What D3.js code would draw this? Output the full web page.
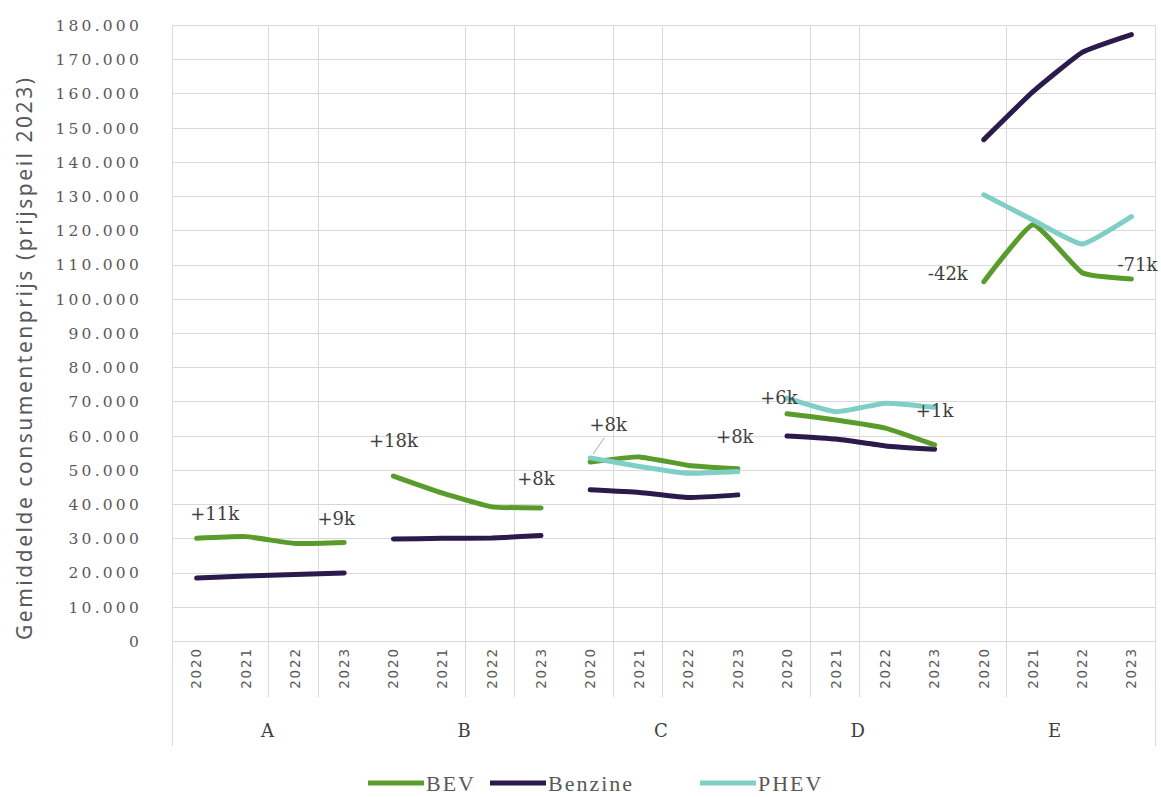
<!DOCTYPE html>
<html><head><meta charset="utf-8">
<script src="https://cdn.jsdelivr.net/npm/d3@7"></script>
<style>
html,body{margin:0;padding:0;background:#fff;}
svg{display:block;}
</style></head>
<body>
<svg id="chart" width="1161" height="797"></svg>
<script>
// ---- data ----
const groups = ["A", "B", "C", "D", "E"];
const years = ["2020", "2021", "2022", "2023"];
const seriesNames = ["BEV", "Benzine", "PHEV"];
// values per group, per year (euro, prijspeil 2023)
const bev = [
  [30000, 30500, 28500, 28800],
  [48200, 43200, 39200, 38900],
  [52300, 53800, 51300, 50300],
  [66400, 64600, 62200, 57300],
  [105000, 121600, 107600, 105800]
];
const benzine = [
  [18400, 19000, 19400, 19900],
  [29800, 30000, 30100, 30800],
  [44200, 43400, 41900, 42700],
  [59900, 59000, 57000, 56000],
  [146500, 160500, 172000, 177200]
];
const phev = [
  null,
  null,
  [53500, 51000, 49000, 49500],
  [71000, 67000, 69500, 68300],
  [130400, 123000, 116000, 124000]
];
const yTicks = [0,10000,20000,30000,40000,50000,60000,70000,80000,90000,100000,110000,120000,130000,140000,150000,160000,170000,180000];
// annotation labels: text, group index, year index, series
const annoText  = ["+11k","+9k","+18k","+8k","+8k","+8k","+6k","+1k","-42k","-71k"];
const annoGroup = [0,0,1,1,2,2,3,3,4,4];
const annoYear  = [0,3,0,3,0,3,0,3,0,3];
const annoSeries= ["BEV","BEV","BEV","BEV","PHEV","BEV","PHEV","PHEV","BEV","BEV"];

(function(){
// ---- layout ----
const svg = d3.select("#chart");
const mLeft = 172, mRight = 1156, mTop = 25, mBottom = 641;
const cats = [];
groups.forEach(g => years.forEach(yr => cats.push(g + "|" + yr)));
const x = d3.scaleBand().domain(cats).range([mLeft, mRight]).paddingInner(0).paddingOuter(0);
const y = d3.scaleLinear().domain([0, 180000]).range([mBottom, mTop]);
const colors = { BEV: "#5a9c2c", Benzine: "#2b1a4c", PHEV: "#80cfc6" };
const dataBySeries = { BEV: bev, Benzine: benzine, PHEV: phev };
const gridColor = "#d9d9d9";

// horizontal gridlines
svg.append("g").selectAll("line").data(yTicks).join("line")
  .attr("x1", mLeft).attr("x2", mRight)
  .attr("y1", d => Math.round(y(d)) + 0.5).attr("y2", d => Math.round(y(d)) + 0.5)
  .attr("stroke", gridColor).attr("stroke-width", 1);

// vertical gridlines (as seen in the reference)
const vBound = [2, 3, 6, 7, 9, 10, 13, 14, 17];
svg.append("g").selectAll("line").data(vBound).join("line")
  .attr("x1", d => Math.round(mLeft + d * x.bandwidth()) - 1.5)
  .attr("x2", d => Math.round(mLeft + d * x.bandwidth()) - 1.5)
  .attr("y1", mTop).attr("y2", 697)
  .attr("stroke", gridColor).attr("stroke-width", 1);
// outer frame lines
[mLeft + 0.5, mRight - 0.5].forEach(xx => {
  svg.append("line").attr("x1", xx).attr("x2", xx).attr("y1", mTop).attr("y2", 746)
    .attr("stroke", gridColor).attr("stroke-width", 1);
});

// y axis tick labels
const yAxis = d3.axisLeft(y).tickValues(yTicks).tickSize(0)
  .tickFormat(d => d === 0 ? "0" : d3.format(",")(d).replace(/,/g, "."));
const ya = svg.append("g").attr("transform", `translate(${mLeft - 27},0)`).call(yAxis);
ya.select(".domain").remove();
ya.selectAll("text").attr("font-family", "DejaVu Serif").attr("font-size", 15.5)
  .attr("letter-spacing", 3.2).attr("fill", "#595959").attr("dy", "0.35em");

// y axis title
svg.append("text")
  .attr("transform", `translate(32,${(78 + 640) / 2}) rotate(-90)`)
  .attr("text-anchor", "middle")
  .attr("font-family", "Noto Sans").attr("font-size", 21).attr("fill", "#595959")
  .attr("textLength", 562).attr("lengthAdjust", "spacing")
  .text("Gemiddelde consumentenprijs (prijspeil 2023)");

// x axis: year labels
const xAxis = d3.axisBottom(x).tickSize(0).tickFormat(d => d.split("|")[1]);
const xa = svg.append("g").attr("transform", `translate(0,${mBottom})`).call(xAxis);
xa.select(".domain").attr("stroke", gridColor);
xa.selectAll("text")
  .attr("transform", "rotate(-90)")
  .attr("text-anchor", "middle")
  .attr("x", -27).attr("y", 0).attr("dy", "0.35em")
  .attr("font-family", "DejaVu Sans").attr("font-size", 13.5)
  .attr("letter-spacing", 1.8).attr("fill", "#595959");

// group labels
svg.append("g").selectAll("text").data(groups).join("text")
  .attr("x", (g) => x(g + "|2020") + x.bandwidth() * 2 - 3)
  .attr("y", 737)
  .attr("text-anchor", "middle")
  .attr("font-family", "DejaVu Serif").attr("font-size", 18).attr("fill", "#404040")
  .text(d => d);

// lines
const line = d3.line()
  .x(d => d.x)
  .y(d => y(d.v))
  .curve(d3.curveCardinal.tension(0.6));
const linesG = svg.append("g");
["Benzine", "BEV", "PHEV"].forEach(s => {
  dataBySeries[s].forEach((vals, gi) => {
    if (!vals) return;
    const pts = vals.map((v, yi) => ({ x: x(groups[gi] + "|" + years[yi]) + x.bandwidth() / 2, v }));
    linesG.append("path").datum(pts)
      .attr("d", line)
      .attr("fill", "none")
      .attr("stroke", colors[s])
      .attr("stroke-width", 5)
      .attr("stroke-linecap", "round")
      .attr("stroke-linejoin", "round");
  });
});

// annotations
const annoOffsets = [
  [18, -25], [-8, -24], [0, -35], [-5, -29], [18, -33], [-3, -32], [-8, 0], [0, 3], [-36, -8], [6, -14]
];
const ag = svg.append("g");
annoText.forEach((t, i) => {
  const gi = annoGroup[i], yi = annoYear[i];
  const px = x(groups[gi] + "|" + years[yi]) + x.bandwidth() / 2;
  const py = y(dataBySeries[annoSeries[i]][gi][yi]);
  ag.append("text")
    .attr("x", px + annoOffsets[i][0]).attr("y", py + annoOffsets[i][1])
    .attr("text-anchor", "middle").attr("dy", "0.35em")
    .attr("font-family", "DejaVu Serif").attr("font-size", 18).attr("fill", "#404040")
    .text(t);
});
// small leader line
{
  const px = x("C|2020") + x.bandwidth() / 2, py = y(phev[2][0]);
  ag.append("line").attr("x1", px + 14).attr("y1", py - 20).attr("x2", px + 3).attr("y2", py - 4)
    .attr("stroke", "#a6a6a6").attr("stroke-width", 1);
}

// legend
const legX = [368, 490, 700];
const lg = svg.append("g");
seriesNames.forEach((s, i) => {
  lg.append("line").attr("x1", legX[i]).attr("x2", legX[i] + 56).attr("y1", 783).attr("y2", 783)
    .attr("stroke", colors[s]).attr("stroke-width", 5);
  lg.append("text").attr("x", legX[i] + 58).attr("y", 783).attr("dy", "0.35em")
    .attr("font-family", "Liberation Serif").attr("font-size", 22)
    .attr("letter-spacing", 2)
    .attr("fill", "#595959").text(s);
});
})();
</script>
</body></html>
